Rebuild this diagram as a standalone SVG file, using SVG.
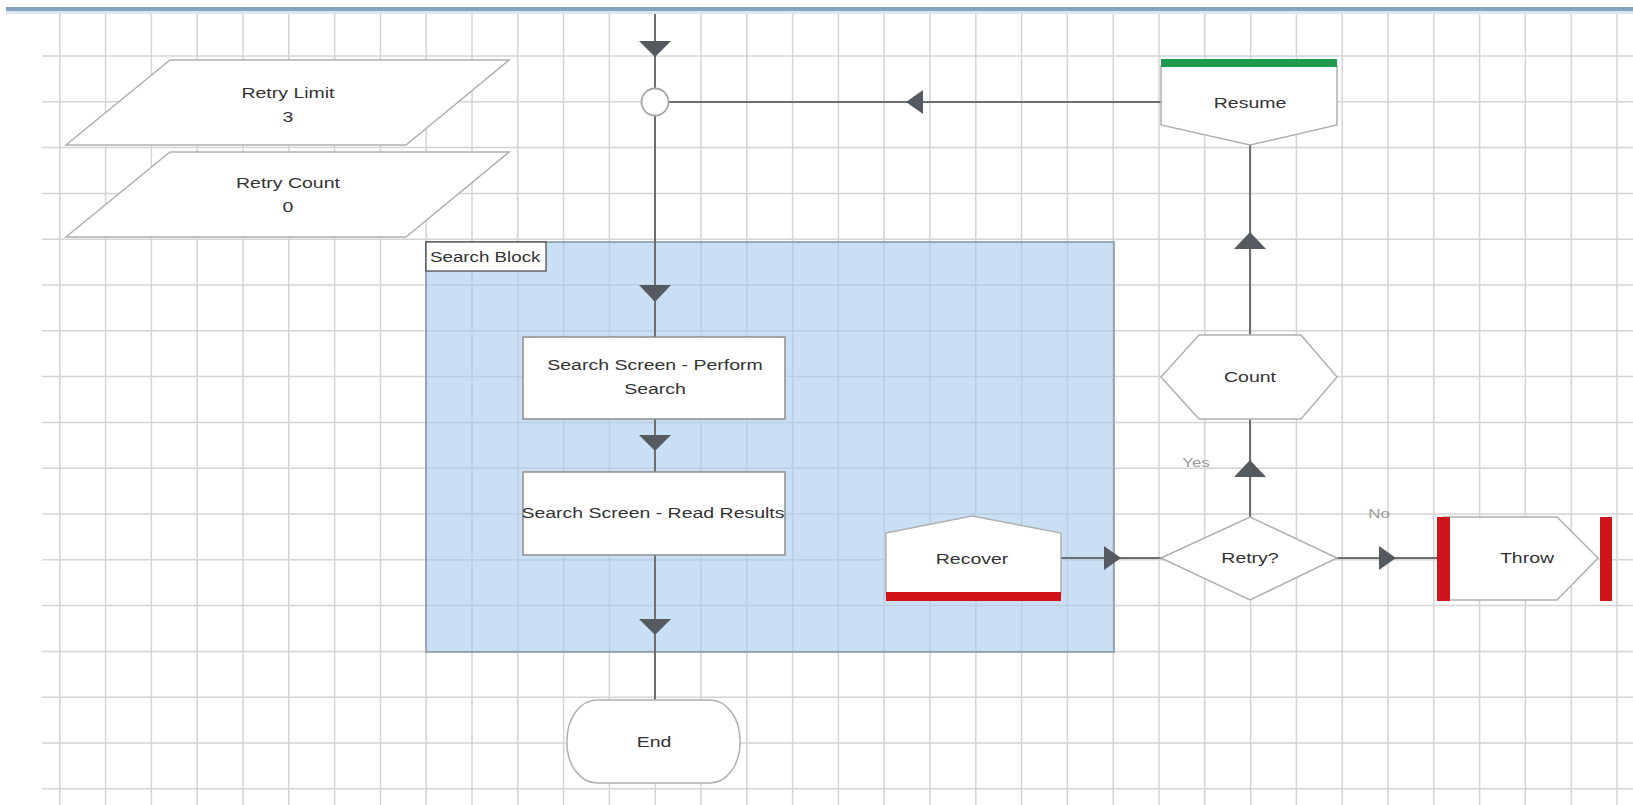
<svg xmlns="http://www.w3.org/2000/svg" width="1633" height="805" viewBox="0 0 1633 805">
<style>
.grid{stroke:#d4d4d4;stroke-width:1.5;fill:none}
.conn{stroke:#6e6e6e;stroke-width:2;fill:none}
.ah{fill:#555a60;stroke:none}
.shape{fill:#ffffff;stroke:#b0b0b0;stroke-width:1.5}
.box{fill:#ffffff;stroke:#8e8e8e;stroke-width:1.5}
.t{font-family:"Liberation Sans",Arial,sans-serif;font-size:15px;fill:#333333;text-anchor:middle}
.lbl{font-family:"Liberation Sans",Arial,sans-serif;font-size:13px;fill:#9a9a9a;text-anchor:middle}
</style>
<rect x="0" y="0" width="1633" height="805" fill="#ffffff"/>
<rect x="6" y="7" width="1627" height="4" fill="#86a4c2"/>
<rect x="6" y="11" width="1627" height="3" fill="#dce6f0"/>
<path class="grid" d="M59.8 14V805M105.6 14V805M151.4 14V805M197.2 14V805M243 14V805M288.8 14V805M334.6 14V805M380.4 14V805M426.2 14V805M472 14V805M517.8 14V805M563.6 14V805M609.4 14V805M655.2 14V805M701 14V805M746.8 14V805M792.6 14V805M838.4 14V805M884.2 14V805M930 14V805M975.8 14V805M1021.6 14V805M1067.4 14V805M1113.2 14V805M1159 14V805M1204.8 14V805M1250.6 14V805M1296.4 14V805M1342.2 14V805M1388 14V805M1433.8 14V805M1479.6 14V805M1525.4 14V805M1571.2 14V805M1617 14V805
M42 56H1633M42 101.8H1633M42 147.6H1633M42 193.4H1633M42 239.2H1633M42 285H1633M42 330.8H1633M42 376.6H1633M42 422.4H1633M42 468.2H1633M42 514H1633M42 559.8H1633M42 605.6H1633M42 651.4H1633M42 697.2H1633M42 743H1633M42 788.8H1633"/>

<g id="search-block">
<rect x="426" y="242" width="688" height="410" fill="#a6c8ec" fill-opacity="0.6" stroke="#8494a4" stroke-width="1.5"/>
<rect x="426" y="242" width="120" height="29" fill="#ffffff" stroke="#222222" stroke-width="1"/>
<text class="t" style="text-anchor:start" transform="matrix(1.25,0,0,1,430,262)">Search Block</text>
</g>

<g id="connectors">
<path class="conn" d="M655 14V88.5M655 115.5V700"/>
<path class="conn" d="M668.5 102H1161"/>
<path class="conn" d="M1250 145V335M1250 419V517"/>
<path class="conn" d="M1061 558H1161M1337 558H1437"/>
<polygon class="ah" points="639,41 671,41 655,57"/>
<polygon class="ah" points="639,285 671,285 655,302"/>
<polygon class="ah" points="639,435 671,435 655,451"/>
<polygon class="ah" points="639,619 671,619 655,635"/>
<polygon class="ah" points="906,102 923,90 923,114"/>
<polygon class="ah" points="1250,232 1234,249 1266,249"/>
<polygon class="ah" points="1250,460 1234,477 1266,477"/>
<polygon class="ah" points="1121,558 1104,546 1104,570"/>
<polygon class="ah" points="1396,558 1379,546 1379,570"/>
<text class="lbl" transform="matrix(1.3,0,0,1,1196,467)">Yes</text>
<text class="lbl" transform="matrix(1.3,0,0,1,1379,518)">No</text>
</g>

<g id="junction">
<circle cx="655" cy="102" r="13.5" fill="#ffffff" stroke="#a8a8a8" stroke-width="1.8"/>
</g>

<g id="retry-limit">
<polygon class="shape" points="170,60 509,60 406,145 66,145"/>
<text class="t" transform="matrix(1.3,0,0,1,288,98)">Retry Limit</text>
<text class="t" transform="matrix(1.3,0,0,1,288,122)">3</text>
</g>

<g id="retry-count">
<polygon class="shape" points="170,152 509,152 406,237 66,237"/>
<text class="t" transform="matrix(1.3,0,0,1,288,188)">Retry Count</text>
<text class="t" transform="matrix(1.3,0,0,1,288,212)">0</text>
</g>

<g id="resume">
<polygon class="shape" points="1161,66 1337,66 1337,125 1250,145 1161,125"/>
<rect x="1161" y="59" width="176" height="8" fill="#1f9a4e"/>
<text class="t" transform="matrix(1.3,0,0,1,1250,108)">Resume</text>
</g>

<g id="count">
<polygon class="shape" points="1161,377 1199,335 1301,335 1337,377 1301,419 1199,419"/>
<text class="t" transform="matrix(1.3,0,0,1,1250,382)">Count</text>
</g>

<g id="retry">
<polygon class="shape" points="1161,558 1250,517 1337,558 1250,600"/>
<text class="t" transform="matrix(1.3,0,0,1,1250,563)">Retry?</text>
</g>

<g id="throw">
<polygon class="shape" points="1443,517 1557,517 1598,558 1557,600 1443,600"/>
<rect x="1437" y="517" width="13" height="84" fill="#d0141a"/>
<rect x="1600" y="517" width="12" height="84" fill="#d0141a"/>
<text class="t" transform="matrix(1.3,0,0,1,1527,563)">Throw</text>
</g>

<g id="perform-search">
<rect class="box" x="523" y="337" width="262" height="82"/>
<text class="t" transform="matrix(1.3,0,0,1,655,370)">Search Screen - Perform</text>
<text class="t" transform="matrix(1.3,0,0,1,655,394)">Search</text>
</g>

<g id="read-results">
<rect class="box" x="523" y="472" width="262" height="83"/>
<text class="t" transform="matrix(1.3,0,0,1,653,518)">Search Screen - Read Results</text>
</g>

<g id="recover">
<polygon class="shape" points="886,533 972,516 1061,533 1061,594 886,594"/>
<rect x="886" y="592" width="175" height="9" fill="#d0141a"/>
<text class="t" transform="matrix(1.3,0,0,1,972,564)">Recover</text>
</g>

<g id="end">
<rect class="shape" x="567" y="700" width="173" height="83" rx="30" ry="40"/>
<text class="t" transform="matrix(1.3,0,0,1,654,747)">End</text>
</g>
</svg>
